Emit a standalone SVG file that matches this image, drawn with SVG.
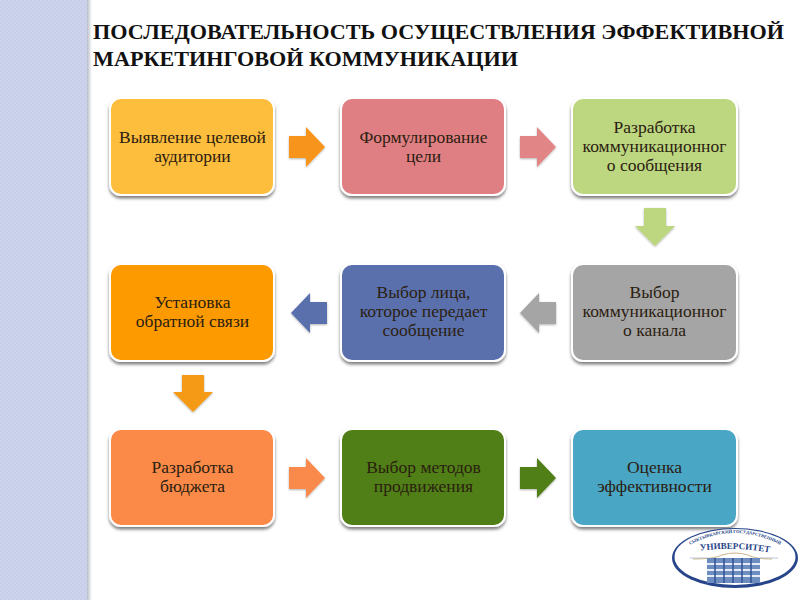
<svg xmlns="http://www.w3.org/2000/svg" width="800" height="600" viewBox="0 0 800 600">
<defs>
<pattern id="dots" width="4" height="4" patternUnits="userSpaceOnUse"><rect width="4" height="4" fill="#c6cde8"/><rect width="2" height="2" fill="#ced4ec"/><rect x="2" y="2" width="2" height="2" fill="#ced4ec"/></pattern>
<linearGradient id="edge" x1="0" x2="1" y1="0" y2="0"><stop offset="0" stop-color="#9aa0b0" stop-opacity=".7"/><stop offset="1" stop-color="#9aa0b0" stop-opacity="0"/></linearGradient>
<filter id="sh" x="-10%" y="-10%" width="120%" height="125%"><feDropShadow dx="0" dy="2.5" stdDeviation="1.6" flood-color="#000" flood-opacity=".5"/></filter>
<filter id="ash" x="-20%" y="-20%" width="140%" height="140%"><feDropShadow dx="0" dy="1" stdDeviation="1.2" flood-color="#000" flood-opacity=".3"/></filter>
<path id="arc1" d="M686 547 Q735 519 784 547"/>
<path id="arc2" d="M697 551 Q735 546 773 553"/>
</defs>
<style>
.box{stroke:#fff;stroke-width:2;filter:url(#sh)}
.lbl{font-family:"Liberation Serif","Noto Sans",serif;font-size:17.5px;fill:#2b2010;text-anchor:middle}
.ttl{font-family:"Liberation Serif",serif;font-weight:bold;font-size:20px;fill:#111}
.arr{filter:url(#ash)}
.lg{font-family:"Liberation Serif",serif;font-weight:bold;fill:#27458a;text-anchor:middle}
</style>
<rect width="800" height="600" fill="#fff"/>
<rect width="87" height="600" fill="url(#dots)"/>
<rect x="87" width="5" height="600" fill="url(#edge)"/>
<text class="ttl" x="93" y="39" textLength="691" lengthAdjust="spacingAndGlyphs">ПОСЛЕДОВАТЕЛЬНОСТЬ ОСУЩЕСТВЛЕНИЯ ЭФФЕКТИВНОЙ</text>
<text class="ttl" x="93" y="66" textLength="425" lengthAdjust="spacingAndGlyphs">МАРКЕТИНГОВОЙ КОММУНИКАЦИИ</text>
<g id="connectors">
<polygon class="arr" fill="#f7941d" points="289,136 306,136 306,127 325,147 306,167 306,158 289,158"/>
<polygon class="arr" fill="#e28587" points="520,136 537,136 537,127 556,147 537,167 537,158 520,158"/>
<polygon class="arr" fill="#bcd780" points="644,208 666,208 666,226 675,226 655,246 635,226 644,226"/>
<polygon class="arr" fill="#a5a5a5" points="556,302 539,302 539,293 520,313 539,333 539,324 556,324"/>
<polygon class="arr" fill="#5a70ad" points="327,302 310,302 310,293 291,313 310,333 310,324 327,324"/>
<polygon class="arr" fill="#f59a17" points="182,375 204,375 204,392 213,392 193,412 173,392 182,392"/>
<polygon class="arr" fill="#f98a4c" points="289,467 306,467 306,458 325,478 306,498 306,489 289,489"/>
<polygon class="arr" fill="#4f7f17" points="520,467 537,467 537,458 556,478 537,498 537,489 520,489"/>
</g>
<g id="n1"><rect class="box" x="110" y="98" width="164" height="97" rx="11" fill="#fdbd3e"/><text class="lbl" x="192.500" y="143">Выявление целевой<tspan x="192.500" dy="19">аудитории</tspan></text></g>
<g id="n2"><rect class="box" x="341" y="98" width="164" height="97" rx="11" fill="#e07f83"/><text class="lbl" x="423.500" y="143">Формулирование<tspan x="423.500" dy="19">цели</tspan></text></g>
<g id="n3"><rect class="box" x="572" y="98" width="165" height="97" rx="11" fill="#bcd780"/><text class="lbl" x="654.500" y="133">Разработка<tspan x="654.500" dy="19">коммуникационног</tspan><tspan x="654.500" dy="19">о сообщения</tspan></text></g>
<g id="n4"><rect class="box" x="110" y="264" width="164" height="97" rx="11" fill="#fd9a00"/><text class="lbl" x="192.500" y="308">Установка<tspan x="192.500" dy="19">обратной связи</tspan></text></g>
<g id="n5"><rect class="box" x="341" y="264" width="164" height="97" rx="11" fill="#5a70ad"/><text class="lbl" x="423.500" y="298">Выбор лица,<tspan x="423.500" dy="19">которое передает</tspan><tspan x="423.500" dy="19">сообщение</tspan></text></g>
<g id="n6"><rect class="box" x="572" y="264" width="165" height="97" rx="11" fill="#a5a5a5"/><text class="lbl" x="654.500" y="298">Выбор<tspan x="654.500" dy="19">коммуникационног</tspan><tspan x="654.500" dy="19">о канала</tspan></text></g>
<g id="n7"><rect class="box" x="110" y="429" width="164" height="97" rx="11" fill="#fb8a4a"/><text class="lbl" x="192.500" y="473">Разработка<tspan x="192.500" dy="19">бюджета</tspan></text></g>
<g id="n8"><rect class="box" x="341" y="429" width="164" height="97" rx="11" fill="#4f7f17"/><text class="lbl" x="423.500" y="473">Выбор методов<tspan x="423.500" dy="19">продвижения</tspan></text></g>
<g id="n9"><rect class="box" x="572" y="429" width="165" height="97" rx="11" fill="#4aa6c4"/><text class="lbl" x="654.500" y="473">Оценка<tspan x="654.500" dy="19">эффективности</tspan></text></g>
<g id="logo">
<ellipse cx="735" cy="558" rx="63" ry="30" fill="#27458a"/>
<ellipse cx="735" cy="557" rx="60.500" ry="28" fill="#fff"/>
<path d="M690 558H707M760 558H778" stroke="#b8c4dc" stroke-width="1" fill="none"/>
<path d="M693 559Q715 559 722 555Q735 551 748 555Q755 559 772 559" fill="none" stroke="#c9b48c" stroke-width="1"/>
<rect x="707" y="558" width="53" height="25" fill="#6d8cc0"/>
<path d="M707 564H760M707 570H760M707 576H760" stroke="#e4eaf6" stroke-width="2"/>
<path d="M715 558V583M724 558V583M733 558V583M742 558V583M751 558V583" stroke="#2f5292" stroke-width="1.500"/>
<text class="lg" font-size="4.500"><textPath href="#arc1" startOffset="50%">СЫКТЫВКАРСКИЙ ГОСУДАРСТВЕННЫЙ</textPath></text>
<text class="lg" font-size="9"><textPath href="#arc2" startOffset="50%">УНИВЕРСИТЕТ</textPath></text>
</g>
</svg>
